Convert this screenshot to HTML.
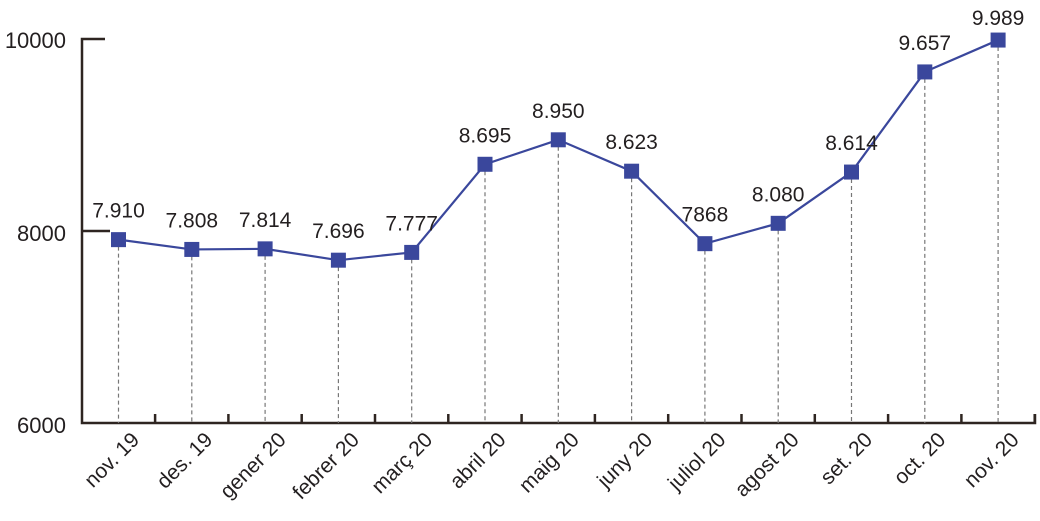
<!DOCTYPE html>
<html><head><meta charset="utf-8"><style>body{margin:0;background:#fff}svg{display:block}text{font-family:"Liberation Sans",sans-serif;fill:#231f20}</style></head>
<body>
<svg width="1040" height="521" viewBox="0 0 1040 521">
<g stroke="#2e2521" stroke-width="2.5" fill="none">
<path d="M105 39 H82 V423 H1035 V414"/>
<path d="M82 231 H110"/>
</g>
<g stroke="#2e2521" stroke-width="2.5" id="ticks"></g>
<g stroke="#777" stroke-width="1.2" stroke-dasharray="4,3" id="drops"></g>
<g font-size="22" text-anchor="end">
<text x="66" y="48">10000</text>
<text x="66" y="241">8000</text>
<text x="66" y="433">6000</text>
</g>
<polyline id="ln" fill="none" stroke="#3a479c" stroke-width="2.2"/>
<g id="mk" fill="#3a479c"></g>
<g id="vl" font-size="21" text-anchor="middle"></g>
<g id="xl" font-size="21" text-anchor="end"></g>
</svg>
<script>
var v=[7910,7808,7814,7696,7777,8695,8950,8623,7868,8080,8614,9657,9989];
var lb=["7.910","7.808","7.814","7.696","7.777","8.695","8.950","8.623","7868","8.080","8.614","9.657","9.989"];
var xs=["nov. 19","des. 19","gener 20","febrer 20","març 20","abril 20","maig 20","juny 20","juliol 20","agost 20","set. 20","oct. 20","nov. 20"];
var ns="http://www.w3.org/2000/svg",pts=[];
function el(t,a,p,tx){var e=document.createElementNS(ns,t);for(var k in a)e.setAttribute(k,a[k]);if(tx)e.textContent=tx;document.getElementById(p).appendChild(e);}
for(var i=0;i<13;i++){var x=118.5+i*73.3,y=423-(v[i]-6000)*0.096;pts.push(x+","+y);
el("line",{x1:x,y1:y,x2:x,y2:423},"drops");
el("line",{x1:x+36.6,y1:423,x2:x+36.6,y2:414},"ticks");
el("rect",{x:x-7.5,y:y-7.5,width:15,height:15},"mk");
el("text",{x:x,y:(i==12?y-15:y-22)},"vl",lb[i]);
el("text",{x:x+22,y:441,transform:"rotate(-45 "+(x+22)+" 441)"},"xl",xs[i]);}
document.getElementById("ln").setAttribute("points",pts.join(" "));
</script>
</body></html>
